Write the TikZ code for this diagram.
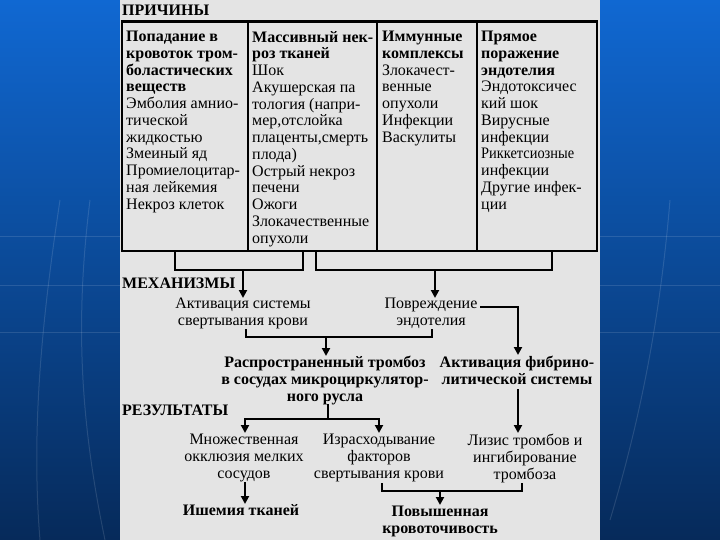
\documentclass[tikz,border=0pt]{standalone}
\usepackage{fontspec}
\setmainfont{Liberation Serif}
\usetikzlibrary{arrows.meta,calc}
\definecolor{pagegray}{RGB}{228,228,228}
\definecolor{bluetop}{RGB}{16,104,210}
\definecolor{bluemid}{RGB}{10,78,165}
\definecolor{bluebot}{RGB}{6,42,90}
\begin{document}
\begin{tikzpicture}[x=1pt,y=-1pt,
  txt/.style={font=\fontsize{16}{16.75}\selectfont, inner sep=0pt, align=left, anchor=north west},
  ctxt/.style={font=\fontsize{16}{16.75}\selectfont, inner sep=0pt, align=center, anchor=north},
  bctxt/.style={ctxt, font=\fontsize{16}{16.75}\selectfont\bfseries},
  hdr/.style={font=\fontsize{16}{17}\selectfont\bfseries, inner sep=0pt, anchor=west},
  conn/.style={line width=2pt},
  arr/.style={line width=2pt, -{Triangle[length=8pt,width=8pt]}},
  faint/.style={white, opacity=0.12, line width=1pt}
]
\useasboundingbox (0,0) rectangle (720,540);
% background
\shade[top color=bluetop, middle color=bluemid, bottom color=bluebot] (0,0) rectangle (720,540);
\draw[faint] (0,236) -- (120,236); \draw[faint] (0,285) -- (120,285); \draw[faint] (0,332) -- (120,332);
\draw[faint] (600,236) -- (720,236); \draw[faint] (600,285) -- (720,285); \draw[faint] (600,332) -- (720,332);
\draw[faint] (40,540) .. controls (30,420) and (45,300) .. (60,200);
\draw[faint] (105,540) .. controls (80,420) and (75,320) .. (90,200);
\draw[faint] (610,520) .. controls (640,420) and (660,320) .. (670,200);
% page
\fill[pagegray] (120,0) rectangle (600,540);
% table
\draw[line width=2pt] (122,22) rectangle (597,251);
\draw[line width=3pt] (121,22) -- (598,22);
\draw[line width=1.5pt] (248,22) -- (248,251);
\draw[line width=1.5pt] (377,22) -- (377,251);
\draw[line width=1.5pt] (477,22) -- (477,251);
\node[hdr] (h1) at (122,10) {ПРИЧИНЫ};
\node[txt] (c1) at (126,31) {\textbf{Попадание в}\\\textbf{кровоток тром-}\\\textbf{боластических}\\\textbf{веществ}\\Эмболия амнио-\\тической\\жидкостью\\Змеиный яд\\Промиелоцитар-\\ная лейкемия\\Некроз клеток};
\node[txt] (c2) at (252,31) {\textbf{Массивный нек-}\\\textbf{роз тканей}\\Шок\\Акушерская па\\тология (напри-\\мер,отслойка\\плаценты,смерть\\плода)\\Острый некроз\\печени\\Ожоги\\Злокачественные\\опухоли};
\node[txt] (c3) at (382,31) {\textbf{Иммунные}\\\textbf{комплексы}\\Злокачест-\\венные\\опухоли\\Инфекции\\Васкулиты};
\node[txt] (c4) at (481,31) {\textbf{Прямое}\\\textbf{поражение}\\\textbf{эндотелия}\\Эндотоксичес\\кий шок\\Вирусные\\инфекции\\\scalebox{0.9}[1]{Риккетсиозные}\\инфекции\\Другие инфек-\\ции};
% mechanisms
\node[hdr] (h2) at (122,283) {МЕХАНИЗМЫ};
\node[ctxt] (act) at (243,298) {Активация системы\\свертывания крови};
\node[ctxt] (dam) at (431,298) {Повреждение\\эндотелия};
\node[bctxt] (thr) at (325,356) {Распространенный тромбоз\\в сосудах микроциркулятор-\\ного русла};
\node[bctxt] (fib) at (517,356) {Активация фибрино-\\литической системы};
% results
\node[hdr] (h3) at (122,410) {РЕЗУЛЬТАТЫ};
\node[ctxt] (occ) at (244,434) {Множественная\\окклюзия мелких\\сосудов};
\node[ctxt] (cons) at (379,434) {Израсходывание\\факторов\\свертывания крови};
\node[ctxt] (lys) at (525,434) {Лизис тромбов и\\ингибирование\\тромбоза};
\node[bctxt] (isch) at (241,504) {Ишемия тканей};
\node[bctxt] (bleed) at (440,506) {Повышенная\\кровоточивость};
% connectors
\coordinate (t1) at (175,251); \coordinate (t2) at (303,251);
\coordinate (t3) at (316,251); \coordinate (t4) at (552,251);
\draw[conn] (t1) -- (175,270) -- (303,270) -- (t2);
\draw[conn] (t3) -- (316,270) -- (552,270) -- (t4);
\coordinate (m1) at (243,270); \coordinate (m2) at (435,270);
\draw[arr] (m1) -- (m1 |- act.north);
\draw[arr] (m2) -- (m2 |- dam.north);
\coordinate (a1) at (246,329); \coordinate (a2) at (432,329);
\draw[conn] (a1) -- (246,337) -- (432,337) -- (a2);
\coordinate (m3) at (326,337);
\draw[arr] (m3) -- (m3 |- thr.north);
\coordinate (d1) at (480,307);
\draw[arr] (d1) -- (518,307) -- (518,355);
\coordinate (m4) at (328,404);
\draw[conn] (m4) -- (328,419);
\draw[arr] (245,419) -- (379,419) -- (379,433);
\draw[arr] (246,419) -- (245,419) -- (245,433);
\coordinate (f1) at (518,389);
\draw[arr] (f1) -- (518,433);
\coordinate (o1) at (245,482);
\draw[arr] (o1) -- (245,504);
\coordinate (b1) at (382,483); \coordinate (b2) at (522,483);
\draw[conn] (b1) -- (382,491) -- (522,491) -- (b2);
\coordinate (m5) at (440,491);
\draw[arr] (m5) -- (440,505);
\end{tikzpicture}
\end{document}
